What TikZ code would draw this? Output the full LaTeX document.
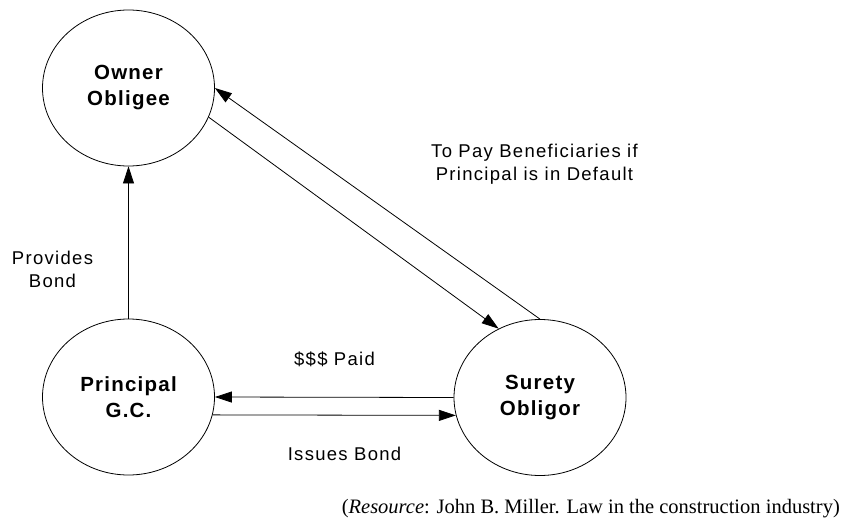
\documentclass[tikz,border=0pt]{standalone}
\usepackage{fontspec}
\setmainfont{Liberation Serif}
\newfontfamily\lblfont[LetterSpace=7]{Liberation Sans}
\newfontfamily\nodefont[LetterSpace=6]{Liberation Sans}
\usetikzlibrary{shapes.geometric,arrows.meta}
\begin{document}
\begin{tikzpicture}[x=1pt,y=-1pt,
  party/.style={ellipse, draw, line width=0.8pt, inner sep=0pt,
    minimum width=172pt, minimum height=156pt, align=center,
    font=\nodefont\bfseries\fontsize{20.5}{26}\selectfont},
  lbl/.style={align=center, inner sep=0pt,
    font=\lblfont\fontsize{18.5}{23}\selectfont},
  flow/.style={line width=0.8pt, -{Triangle[length=17pt,width=11pt]}}]
\useasboundingbox (0,0) rectangle (846,525);
\node[party] (O) at (128.5,88) {Owner\\Obligee};
\node[party] (P) at (128.5,397) {Principal\\G.C.};
\node[party] (S) at (540,397.5) {Surety\\Obligor};
% connectors
\draw[flow] (P.north) -- (O.south);
\draw[flow] (S.north) -- (O.east);
\draw[flow] (O.-20.6) -- (S.121.7);
\draw[flow] (S.west) -- (P.east);
\draw[flow] (P.-12.1) -- (S.192.1);
% labels (base = baseline of last line)
\node[lbl, anchor=base] (lprov) at (52.5,287) {Provides\\Bond};
\node[lbl, anchor=base] (lpay) at (534.5,180) {To Pay Beneficiaries if\\Principal is in Default};
\node[lbl, anchor=base] (lpaid) at (334.5,365) {\$\$\$ Paid};
\node[lbl, anchor=base] (liss) at (344.5,460) {Issues Bond};
\node[anchor=base east, inner sep=0pt, font=\fontsize{20.5}{24}\selectfont] (cap) at (840,513)
  {(\textit{Resource}: John B. Miller. Law in the construction industry)};
\end{tikzpicture}
\end{document}
